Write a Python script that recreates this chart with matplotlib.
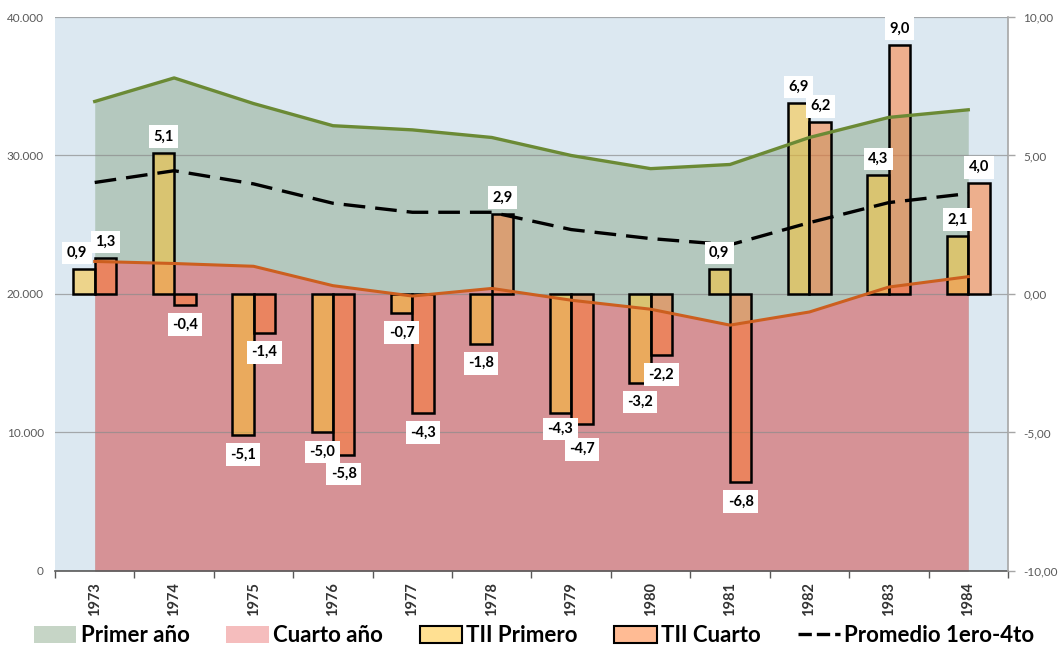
import matplotlib
matplotlib.use("Agg")
import matplotlib.pyplot as plt
from matplotlib.patches import Patch
from matplotlib.lines import Line2D
import numpy as np

plt.rcParams['font.family'] = ['Lato', 'DejaVu Sans']

years = ["1973", "1974", "1975", "1976", "1977", "1978",
         "1979", "1980", "1981", "1982", "1983", "1984"]
primer_anio = [33900, 35600, 33750, 32150, 31850, 31300, 30000, 29050, 29350, 31300, 32750, 33300]
cuarto_anio = [22350, 22200, 22000, 20600, 19850, 20400, 19550, 18900, 17750, 18700, 20500, 21250]
promedio = [28050, 28900, 27950, 26550, 25900, 25900, 24650, 24000, 23550, 25150, 26600, 27250]
tii_primero = [0.9, 5.1, -5.1, -5.0, -0.7, -1.8, -4.3, -3.2, 0.9, 6.9, 4.3, 2.1]
tii_cuarto = [1.3, -0.4, -1.4, -5.8, -4.3, 2.9, -4.7, -2.2, -6.8, 6.2, 9.0, 4.0]
left_ticks = [0, 10000, 20000, 30000, 40000]
right_ticks = [-10, -5, 0, 5, 10]

fig = plt.figure(figsize=(10.58, 6.54), dpi=100)
ax = fig.add_axes([0.052, 0.127, 0.9007, 0.847])
ax.set_facecolor('#DCE8F1')
x = np.arange(len(years))

ax.fill_between(x, 0, primer_anio, color='#B4C8BE', lw=0, zorder=0.5)
ax.fill_between(x, 0, cuarto_anio, color='#D69296', lw=0, zorder=0.6)
ax.set_xlim(-0.5, len(years) - 0.5)
ax.set_ylim(0, 40000)
ax.set_yticks(left_ticks)
ax.set_yticklabels(["0" if v == 0 else f"{v:,}".replace(",", ".") for v in left_ticks])
ax.set_axisbelow('line')
ax.yaxis.grid(True, color='#8C8C8C', lw=0.9, alpha=0.7)
ax.tick_params(axis='y', length=0, labelsize=8.5, labelcolor='#595959', pad=8)
ax.set_xticks(x)
ax.set_xticklabels(years, rotation=90, fontweight='bold', fontsize=10.5, color='#333333')
ax.set_xticks(np.arange(len(years) + 1) - 0.5, minor=True)
ax.tick_params(axis='x', which='major', length=0, pad=8)
ax.tick_params(axis='x', which='minor', length=5, width=1, color='#595959', direction='out')
for s in ['left', 'top', 'right']:
    ax.spines[s].set_visible(False)
ax.spines['bottom'].set_color('#595959')
ax.spines['bottom'].set_linewidth(1.2)

ax2 = ax.twinx()
ax2.set_ylim(-10, 10)
w = 0.27
prim_c = (1.0, 0.76, 0.15, 0.5)
cuar_c = (1.0, 0.47, 0.17, 0.5)
ax2.bar(x - w / 2, tii_primero, width=w, color=prim_c, edgecolor='black', lw=1.8, zorder=2)
ax2.bar(x + w / 2, tii_cuarto, width=w, color=cuar_c, edgecolor='black', lw=1.8, zorder=2)
ax2.set_yticks(right_ticks)
ax2.set_yticklabels([f"{v:.2f}".replace(".", ",") for v in right_ticks])
ax2.tick_params(axis='y', length=5, width=1, color='#A6A6A6', labelsize=8.5, labelcolor='#595959', pad=6)
for s in ['left', 'top', 'bottom']:
    ax2.spines[s].set_visible(False)
ax2.spines['right'].set_color('#A6A6A6')
ax2.spines['right'].set_linewidth(1.2)

ax3 = ax.twinx()
ax3.set_ylim(0, 40000)
ax3.axis('off')
ax3.plot(x, primer_anio, color='#6B8A35', lw=2.4, zorder=3)
ax3.plot(x, cuarto_anio, color='#CC5F1F', lw=2.2, zorder=3)
ax3.plot(x, promedio, color='black', lw=2.4, dashes=(6.5, 3), zorder=3)

def fmt(v):
    return f"{v:.1f}".replace(".", ",")

# label nudges: (series, index) -> (dx, dy) in points
nudge = {(0, 0): (-5, 11.5), (0, 6): (0, -11.5), (1, 6): (0, -18)}
for si, (xs, vals) in enumerate([(x - w / 2, tii_primero), (x + w / 2, tii_cuarto)]):
    for i, (xi, v) in enumerate(zip(xs, vals)):
        off = (0, 11.5 if v > 0 else -14)
        off = nudge.get((si, i), off)
        ax3.annotate(fmt(v), xy=(xi, v), xycoords=ax2.transData,
                     xytext=off, textcoords='offset points',
                     ha='center', va='center', fontsize=10.5, fontweight='bold',
                     color='black', zorder=5,
                     bbox=dict(boxstyle='square,pad=0.3', fc='white', ec='none'))

handles = [
    Patch(facecolor='#C6D5C6', edgecolor='none'),
    Patch(facecolor='#F5BDBD', edgecolor='none'),
    Patch(facecolor=prim_c, edgecolor='black', lw=1.5),
    Patch(facecolor=cuar_c, edgecolor='black', lw=1.5),
    Line2D([0], [0], color='black', lw=2.4, dashes=(4, 1.5)),
]
labels = ["Primer año", "Cuarto año", "TII Primero", "TII Cuarto", "Promedio 1ero-4to"]
fig.legend(handles, labels, loc='lower center', bbox_to_anchor=(0.505, -0.018), ncol=5,
           frameon=False, prop=dict(weight='bold', size=16), handlelength=1.9,
           handleheight=0.8, handletextpad=0.2, columnspacing=1.65)

fig.savefig("out.png", dpi=100)
